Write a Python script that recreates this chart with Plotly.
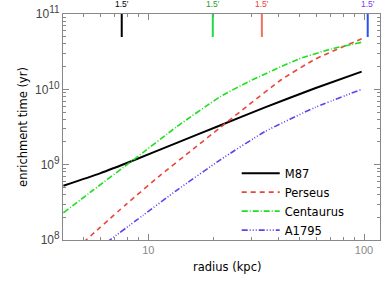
import math
import plotly.graph_objects as go

# ---- data ----
m87_r = [4.04, 5.97, 8.51, 13.55, 21.48, 34.75, 59.29, 97.5]
m87_t = [5.25e8, 7.67e8, 1.135e9, 1.95e9, 3.31e9, 5.75e9, 1.035e10, 1.72e10]

per_r = [5.0, 7.94, 11.32, 16.18, 21.48, 29.11, 41.5, 59.29, 97.5]
per_t = [9.3e7, 3.02e8, 7.16e8, 1.62e9, 3.09e9, 6.17e9, 1.35e10, 2.51e10, 4.68e10]

cen_r = [4.04, 5.56, 8.51, 13.55, 21.48, 29.11, 49.55, 70.8, 97.5]
cen_t = [2.30e8, 4.61e8, 1.153e9, 3.19e9, 7.94e9, 1.26e10, 2.51e10, 3.44e10, 4.21e10]

a17_r = [6.4, 9.48, 13.55, 21.48, 34.75, 59.29, 97.5]
a17_t = [9.25e7, 2.14e8, 4.57e8, 1.15e9, 2.75e9, 5.75e9, 1.0e10]

names = ["M87", "Perseus", "Centaurus", "A1795"]
line_colors = ["#000000", "#e8453c", "#1ee01e", "#5a44f0"]
# 1.5 arcmin radius of each cluster (kpc): M87, Centaurus, Perseus, A1795
arcmin_r = [7.53, 19.9, 33.6, 104.0]
marker_colors = ["#000000", "#1edc44", "#f07060", "#2a50f0"]
label_colors = ["#000000", "#2e9a2e", "#e84040", "#7a3cf0"]
arcmin_label = "1.5\u2032"
marker_top = 1.0e11
marker_bottom = 4.95e10

y_tickvals = [1e8, 1e9, 1e10, 1e11]
y_exponents = ["8", "9", "10", "11"]
y_ticktext = ['10<sup><span style="font-size:10px">%s</span></sup>' % e for e in y_exponents]
y_minor = [m * 10 ** p for p in (8, 9, 10) for m in range(2, 10)]

x_title = "radius (kpc)"
y_title = "enrichment time (yr)"

font_txt = "DejaVu Sans"
font_num = "Liberation Sans"

fig = go.Figure()
series = [(m87_r, m87_t), (per_r, per_t), (cen_r, cen_t), (a17_r, a17_t)]
dashes = ["solid", "5px,4px", "6px,2px,1px,2px", "6px,2px,1px,2px,1px,2px,1px,2px"]
widths = [2, 1.6, 1.6, 1.6]
for (r, t), n, c, d, w in zip(series, names, line_colors, dashes, widths):
    fig.add_trace(go.Scatter(x=r, y=t, mode="lines", name=n,
                             line=dict(color=c, dash=d, width=w, shape="spline", smoothing=0.5)))

for r, c in zip(arcmin_r, marker_colors):
    fig.add_trace(go.Scatter(x=[r, r], y=[marker_bottom, marker_top], mode="lines",
                             line=dict(color=c, width=2), showlegend=False,
                             hoverinfo="skip", cliponaxis=False))

for r, c in zip(arcmin_r, label_colors):
    fig.add_annotation(x=math.log10(r), y=1.0, xref="x", yref="paper",
                       text=arcmin_label, showarrow=False, yanchor="bottom",
                       yshift=3, font=dict(family=font_num, size=8.5, color=c))

# x axis title
fig.add_annotation(x=0.517, y=-0.119, xref="paper", yref="paper", text=x_title,
                   showarrow=False, xanchor="center", yanchor="middle",
                   font=dict(family=font_txt, size=11.5, color="#000000"))

axis_common = dict(type="log", showgrid=False, zeroline=False, showline=True,
                   linecolor="#888888", linewidth=1, mirror="allticks", automargin=False,
                   ticks="inside", ticklen=6, tickcolor="#888888", tickwidth=1)

fig.update_xaxes(**axis_common, range=[0.6045, 2.074], dtick=1,
                 minor=dict(ticks="inside", ticklen=3, tickcolor="#888888", showgrid=False),
                 tickfont=dict(family=font_num, size=11, color="#888888"))
fig.update_yaxes(**axis_common, range=[8, 11], tickmode="array",
                 tickvals=y_tickvals, ticktext=y_ticktext,
                 minor=dict(tickmode="array", tickvals=y_minor, ticks="inside", ticklen=3,
                            tickcolor="#888888", showgrid=False),
                 tickfont=dict(family=font_num, size=12, color="#444444"),
                 title=dict(text=y_title, standoff=5,
                            font=dict(family=font_txt, size=11.5, color="#000000")))

fig.update_layout(
    width=389, height=283,
    margin=dict(l=63, r=9, t=14, b=43),
    paper_bgcolor="white", plot_bgcolor="white",
    showlegend=True,
    legend=dict(x=0.548, y=0.36, xanchor="left", yanchor="top",
                bgcolor="rgba(0,0,0,0)", itemwidth=38,
                font=dict(family=font_txt, size=11.5, color="#000000")),
)

fig.write_html("out.html", config={"displayModeBar": False},
               post_script="document.body.style.margin='0px';")
